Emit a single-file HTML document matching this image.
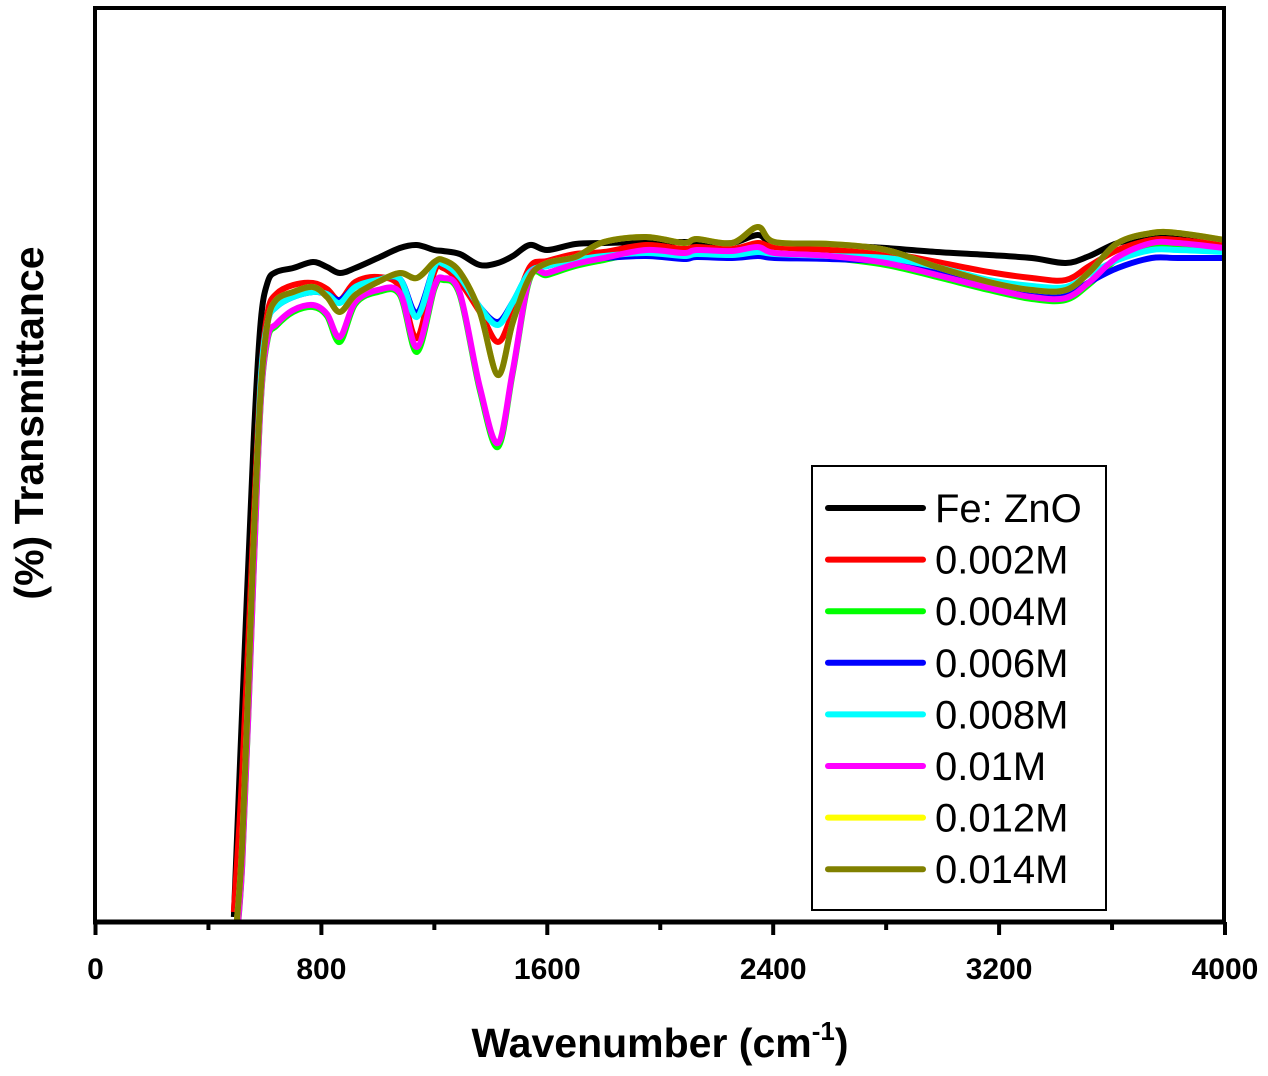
<!DOCTYPE html>
<html><head><meta charset="utf-8"><style>
html,body{margin:0;padding:0;background:#fff;}
svg{display:block;font-family:"Liberation Sans",Arial,sans-serif;}
</style></head><body>
<svg id="chart" width="1268" height="1076" viewBox="0 0 1268 1076" xmlns="http://www.w3.org/2000/svg">
<defs><clipPath id="plotclip"><rect x="95" y="8" width="1129" height="914"/></clipPath></defs>
<g id="series" clip-path="url(#plotclip)"></g>
<rect x="95" y="8" width="1129" height="914" fill="none" stroke="#000" stroke-width="4"/>
<line x1="93" y1="922" x2="1226" y2="922" stroke="#000" stroke-width="5"/>
<g id="ticks"></g>
<text x="660" y="1057" font-size="41" font-weight="bold" text-anchor="middle">Wavenumber (cm<tspan font-size="26" dy="-17">-1</tspan><tspan dy="17">)</tspan></text>
<text transform="translate(43,423) rotate(-90)" font-size="41" font-weight="bold" text-anchor="middle">(%) Transmittance</text>
<g>
<rect x="812" y="466" width="294" height="444" fill="#fff" stroke="#000" stroke-width="2"/>
<g id="legend-items"></g>
</g>
</svg>
<script>
const wavenumbers = [490,520,560,585,610,640,700,770,820,865,920,1000,1078,1138,1200,1231,1290,1361,1425,1478,1538,1600,1700,1800,1950,2083,2129,2254,2345,2405,2600,2800,2980,3164,3316,3436,3520,3620,3740,3833,4000];
const seriesNames = ["Fe: ZnO","0.002M","0.004M","0.006M","0.008M","0.01M","0.012M","0.014M"];
const seriesColors = ["#000000","#ff0000","#00ff00","#0000ff","#00ffff","#ff00ff","#ffff00","#808000"];
const feZnO = [5,215,480,600,640,650,654,660,655,649,654,664,674,677,672,671,668,657,659,666,677,672,678,679,680,680,680,679,687,679,677,674,670,667,664,659,666,679,685,685,682];
const m0002 = [10,150,400,545,610,628,637,639,633,622,640,645,635,584,650,654,640,610,580,610,655,661,668,670,677,673,675,673,679,675,672,669,660,650,644,642,656,672,682,682,677];
const m0004 = [-42,58,348,518,583,596,610,615,606,580,618,630,627,570,633,642,627,532,475,550,643,647,656,662,670,667,670,669,673,667,664,657,645,632,623,622,638,663,677,677,672];
const m0006 = [-40,70,370,540,600,615,625,630,628,622,635,642,643,609,655,658,645,615,600,620,650,656,662,664,666,663,665,664,666,664,663,660,650,635,628,627,640,654,664,664,664];
const m0008 = [-40,70,370,540,600,615,625,630,628,619,635,642,643,605,655,658,645,615,597,620,650,656,662,666,669,666,668,667,670,668,666,664,655,642,636,635,648,662,672,672,670];
const m0010 = [-40,60,350,520,585,598,612,617,608,585,620,632,629,575,635,644,629,535,479,552,645,649,658,664,672,669,672,671,675,669,666,659,647,634,625,624,640,665,679,679,674];
const m0012 = [-30,80,380,530,600,622,630,635,625,610,627,640,649,644,660,662,650,610,547,600,645,659,665,680,685,679,683,679,695,680,678,672,655,640,632,632,650,679,689,689,682];
const m0014 = [-30,80,380,530,600,622,630,635,625,610,627,640,649,644,660,662,650,610,547,600,645,659,665,680,685,679,683,679,695,680,678,672,655,640,632,632,650,679,689,689,682];
const xTicks = [0,800,1600,2400,3200,4000];
const xMinorTicks = [400,1200,2000,2800,3600];

const allSeries = [feZnO,m0002,m0004,m0006,m0008,m0010,m0012,m0014];
const NS="http://www.w3.org/2000/svg";
function xScale(w){return 95.5 + (w-0)*(1129.5/4000);}
function yScale(v){return 922 - v;}
function pathFor(vals){
  const pts = wavenumbers.map((w,i)=>[xScale(w),yScale(vals[i])]);
  let d="M"+pts[0][0]+","+pts[0][1];
  for(let i=0;i<pts.length-1;i++){
    const p0=pts[Math.max(0,i-1)],p1=pts[i],p2=pts[i+1],p3=pts[Math.min(pts.length-1,i+2)];
    const c1=[p1[0]+(p2[0]-p0[0])/6,p1[1]+(p2[1]-p0[1])/6];
    const c2=[p2[0]-(p3[0]-p1[0])/6,p2[1]-(p3[1]-p1[1])/6];
    d+=" C"+c1[0].toFixed(1)+","+c1[1].toFixed(1)+" "+c2[0].toFixed(1)+","+c2[1].toFixed(1)+" "+p2[0].toFixed(1)+","+p2[1].toFixed(1);
  }
  return d;
}
const sg=document.getElementById("series");
allSeries.forEach((vals,i)=>{
  const p=document.createElementNS(NS,"path");
  p.setAttribute("d",pathFor(vals));
  p.setAttribute("fill","none");
  p.setAttribute("stroke",seriesColors[i]);
  p.setAttribute("stroke-width","6");
  p.setAttribute("stroke-linejoin","round");
  
  
  sg.appendChild(p);
});
const tg=document.getElementById("ticks");
xTicks.forEach(t=>{
  const l=document.createElementNS(NS,"line");
  const x=xScale(t);
  l.setAttribute("x1",x);l.setAttribute("x2",x);l.setAttribute("y1",922);l.setAttribute("y2",935);
  l.setAttribute("stroke","#000");l.setAttribute("stroke-width","4");
  
  
  tg.appendChild(l);
  const tx=document.createElementNS(NS,"text");
  tx.setAttribute("x",x);tx.setAttribute("y",979);
  tx.setAttribute("font-size","30");tx.setAttribute("font-weight","bold");tx.setAttribute("text-anchor","middle");
  tx.textContent=t;
  
  
  tg.appendChild(tx);
});
xMinorTicks.forEach(t=>{
  const l=document.createElementNS(NS,"line");
  const x=xScale(t);
  l.setAttribute("x1",x);l.setAttribute("x2",x);l.setAttribute("y1",922);l.setAttribute("y2",930);
  l.setAttribute("stroke","#000");l.setAttribute("stroke-width","4");
  
  
  tg.appendChild(l);
});
const lg=document.getElementById("legend-items");
seriesNames.forEach((n,i)=>{
  const y=508+i*51.6;
  const g=document.createElementNS(NS,"g");
  
  
  const l=document.createElementNS(NS,"line");
  l.setAttribute("x1",828);l.setAttribute("x2",923);l.setAttribute("y1",y);l.setAttribute("y2",y);
  l.setAttribute("stroke",seriesColors[i]);l.setAttribute("stroke-width","6");l.setAttribute("stroke-linecap","round");
  
  
  const t=document.createElementNS(NS,"text");
  t.setAttribute("x",935);t.setAttribute("y",y+14);t.setAttribute("font-size","40");
  t.textContent=n;
  
  
  g.appendChild(l);g.appendChild(t);lg.appendChild(g);
});
</script>
</body></html>
